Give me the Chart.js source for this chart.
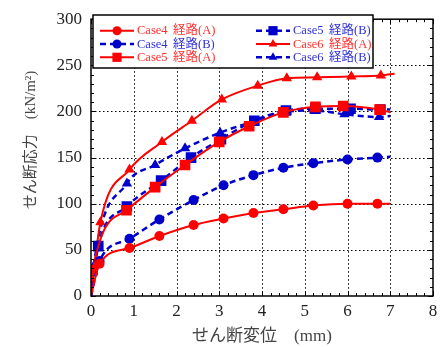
<!DOCTYPE html>
<html>
<head>
<meta charset="utf-8">
<script src="https://cdn.jsdelivr.net/npm/chart.js@4"></script>
<style>
  body { margin: 0; background: #fff; }
</style>
</head>
<body>
<canvas id="grafico" width="443" height="347"></canvas>
<script>
// せん断変位 (mm) と せん断応力 (kN/m2)
// 先頭は原点、末尾は最終点（マーカーなし）
const case4A_x = [0, 0.2, 0.9, 1.6, 2.4, 3.1, 3.8, 4.5, 5.2, 6.0, 6.7, 7.0];
const case4A_y = [0, 35, 52, 65, 77, 84, 90, 94, 98, 100, 100, 100];

const case4B_x = [0, 0.2, 0.9, 1.6, 2.4, 3.1, 3.8, 4.5, 5.2, 6.0, 6.7, 7.0];
const case4B_y = [0, 38, 62, 83, 104, 120, 131, 139, 144, 148, 150, 151];

const case5A_x = [0, 0.04, 0.83, 1.5, 2.2, 3.0, 3.7, 4.5, 5.25, 5.9, 6.75, 7.0];
const case5A_y = [0, 28, 93, 118, 142, 167, 184, 199, 205, 206, 202, 199];

const case5B_x = [0, 0.17, 0.84, 1.64, 2.34, 3.04, 3.82, 4.56, 5.25, 6.07, 6.77, 7.0];
const case5B_y = [0, 54, 97, 125, 150, 170, 190, 201, 203, 203, 202, 202];

const case6A_x = [0, 0.22, 0.9, 1.66, 2.36, 3.06, 3.9, 4.58, 5.29, 6.09, 6.78, 7.1];
const case6A_y = [0, 80, 137, 167, 190, 213, 228, 236, 237, 238, 239, 241];

const case6B_x = [0, 0.06, 0.84, 1.5, 2.2, 3.02, 3.79, 4.58, 5.22, 5.93, 6.74, 7.0];
const case6B_y = [0, 32, 122, 142, 160, 177, 189, 200, 201, 197, 194, 195];

const ticksX = [0, 1, 2, 3, 4, 5, 6, 7, 8];
const ticksY = [0, 50, 100, 150, 200, 250, 300];

const labels = ['Case4　経路(A)', 'Case4　経路(B)', 'Case5　経路(A)',
                'Case5　経路(B)', 'Case6　経路(A)', 'Case6　経路(B)'];

const RED = '#ff0000';
const BLUE = '#0000cc';

function serie(label, xs, ys, cor, tracejado, estilo, raio) {
    return {
        label: label,
        data: xs.map((x, i) => ({ x: x, y: ys[i] })),
        showLine: true,
        borderColor: cor,
        backgroundColor: cor,
        borderWidth: tracejado ? 2.5 : 2,
        borderDash: tracejado ? [6, 4] : [],
        cubicInterpolationMode: 'monotone',
        pointStyle: estilo,
        pointBorderWidth: 0,
        pointRadius: ctx => (ctx.dataIndex === 0 || ctx.dataIndex === xs.length - 1) ? 0 : raio
    };
}

const datasets = [
    serie(labels[0], case4A_x, case4A_y, RED, false, 'circle', 5),
    serie(labels[1], case4B_x, case4B_y, BLUE, true, 'circle', 5),
    serie(labels[2], case5A_x, case5A_y, RED, false, 'rect', 7.5),
    serie(labels[3], case5B_x, case5B_y, BLUE, true, 'rect', 7.5),
    serie(labels[4], case6A_x, case6A_y, RED, false, 'triangle', 6),
    serie(labels[5], case6B_x, case6B_y, BLUE, true, 'triangle', 6)
];

// 点線グリッド
const gradePlugin = {
    id: 'grade',
    beforeDatasetsDraw(chart) {
        const { ctx, chartArea: a, scales: { x, y } } = chart;
        ctx.save();
        ctx.strokeStyle = '#000';
        ctx.lineWidth = 1;
        ctx.setLineDash([1.5, 2.5]);
        ticksX.slice(1, -1).forEach(v => {
            const px = Math.round(x.getPixelForValue(v)) + 0.5;
            ctx.beginPath(); ctx.moveTo(px, a.top); ctx.lineTo(px, a.bottom); ctx.stroke();
        });
        ticksY.slice(1, -1).forEach(v => {
            const py = Math.round(y.getPixelForValue(v)) + 0.5;
            ctx.beginPath(); ctx.moveTo(a.left, py); ctx.lineTo(a.right, py); ctx.stroke();
        });
        ctx.restore();
    },
    // 枠と内向きの目盛り
    afterDatasetsDraw(chart) {
        const { ctx, chartArea: a, scales: { x, y } } = chart;
        ctx.save();
        ctx.strokeStyle = '#000';
        ctx.lineWidth = 1;
        for (let v = 0; v <= 8.001; v += 0.2) {
            const px = Math.round(x.getPixelForValue(v)) + 0.5;
            const len = Math.abs(v - Math.round(v)) < 0.01 ? 5 : 3;
            ctx.beginPath();
            ctx.moveTo(px, a.bottom); ctx.lineTo(px, a.bottom - len);
            ctx.moveTo(px, a.top); ctx.lineTo(px, a.top + len);
            ctx.stroke();
        }
        for (let v = 0; v <= 300; v += 10) {
            const py = Math.round(y.getPixelForValue(v)) + 0.5;
            const len = v % 50 === 0 ? 5 : 3;
            ctx.beginPath();
            ctx.moveTo(a.left, py); ctx.lineTo(a.left + len, py);
            ctx.moveTo(a.right, py); ctx.lineTo(a.right - len, py);
            ctx.stroke();
        }
        ctx.lineWidth = 1.5;
        ctx.strokeRect(a.left, a.top, a.right - a.left, a.bottom - a.top);
        ctx.restore();
    },
    // 凡例と軸タイトル
    afterDraw(chart) {
        const { ctx, chartArea: a } = chart;
        ctx.save();

        ctx.fillStyle = '#fff';
        ctx.fillRect(93, 15, 280, 53);
        ctx.strokeStyle = '#000';
        ctx.lineWidth = 1.5;
        ctx.strokeRect(93, 15, 280, 53);

        const colunas = [{ x0: 100, x1: 134, tx: 137 }, { x0: 256, x1: 290, tx: 293 }];
        const linhas = [30.7, 44, 57.3];
        chart.data.datasets.forEach((ds, i) => {
            const c = colunas[Math.floor(i / 3)];
            const yy = linhas[i % 3];
            ctx.strokeStyle = ds.borderColor;
            ctx.fillStyle = ds.borderColor;
            ctx.lineWidth = ds.borderWidth;
            ctx.setLineDash(ds.borderDash);
            ctx.beginPath(); ctx.moveTo(c.x0, yy); ctx.lineTo(c.x1, yy); ctx.stroke();
            ctx.setLineDash([]);
            const r = ds.pointStyle === 'rect' ? 6.5 : (ds.pointStyle === 'triangle' ? 5 : 4.5);
            Chart.helpers.drawPoint(ctx, { pointStyle: ds.pointStyle, radius: r, rotation: 0, borderWidth: 0 },
                (c.x0 + c.x1) / 2, yy);
            const [nome, rota] = ds.label.split('　');
            ctx.font = '12.5px "Liberation Serif", "Noto Sans CJK JP"';
            ctx.textBaseline = 'middle';
            ctx.textAlign = 'left';
            ctx.fillStyle = ds.borderColor === RED ? '#ff3030' : '#3030d8';
            ctx.fillText(nome, c.tx, yy + 0.5);
            ctx.fillText(rota, c.tx + 36, yy + 0.5);
        });

        ctx.fillStyle = '#444';
        ctx.textAlign = 'center';
        ctx.textBaseline = 'middle';
        ctx.font = '17px "Liberation Serif", "Noto Sans CJK JP"';
        ctx.fillText('せん断変位　(mm)', (a.left + a.right) / 2, 337);

        ctx.translate(31, 140);
        ctx.rotate(-Math.PI / 2);
        ctx.font = '15px "Liberation Serif", "Noto Sans CJK JP"';
        ctx.fillText('せん断応力　(kN/m²)', 0, 0);
        ctx.restore();
    }
};

const fonteTick = { family: '"Liberation Serif", serif', size: 17 };

new Chart(document.getElementById('grafico').getContext('2d'), {
    type: 'scatter',
    data: { datasets: datasets },
    options: {
        responsive: false,
        animation: false,
        layout: { padding: { top: 14, right: 10, left: 0, bottom: 0 } },
        plugins: { legend: { display: false }, tooltip: { enabled: false } },
        scales: {
            x: {
                type: 'linear',
                min: 0, max: 8,
                afterBuildTicks: s => { s.ticks = ticksX.map(v => ({ value: v })); },
                ticks: { font: fonteTick, color: '#222', padding: 5, maxRotation: 0 },
                grid: { display: false, drawTicks: false },
                border: { display: false },
                afterFit: s => { s.height = 51; }
            },
            y: {
                min: 0, max: 300,
                afterBuildTicks: s => { s.ticks = ticksY.map(v => ({ value: v })); },
                ticks: { font: fonteTick, color: '#222', padding: 9 },
                grid: { display: false, drawTicks: false },
                border: { display: false },
                afterFit: s => { s.width = 91; }
            }
        }
    },
    plugins: [gradePlugin]
});
</script>
</body>
</html>
